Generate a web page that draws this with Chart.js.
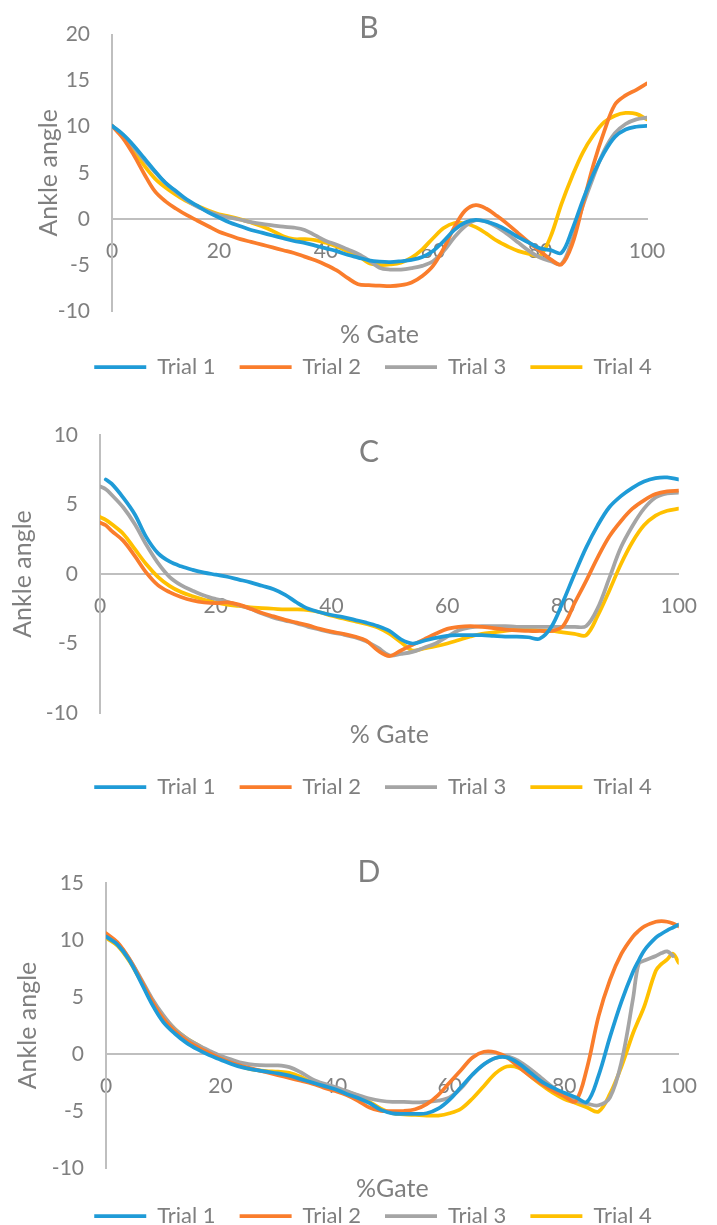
<!DOCTYPE html>
<html>
<head>
<meta charset="utf-8">
<title>Ankle angle over the gait cycle</title>
<script src="https://cdn.jsdelivr.net/npm/chart.js@4.4.1/dist/chart.umd.min.js"></script>
<style>
  html, body { margin: 0; padding: 0; background: #ffffff; overflow: hidden; }
  #page { position: relative; width: 717px; height: 1225px; overflow: hidden; }
  #page canvas { position: absolute; left: 0; }
</style>
</head>
<body>
<div id="page">
  <canvas id="panelB" width="717" height="388" style="top:0px"></canvas>
  <canvas id="panelC" width="717" height="420" style="top:388px"></canvas>
  <canvas id="panelD" width="717" height="429" style="top:808px"></canvas>
</div>
<script>
// ---- shared labels and tick values ----
const trialNames = ['Trial 1', 'Trial 2', 'Trial 3', 'Trial 4'];
const gateTicks = [0, 20, 40, 60, 80, 100];
const angleTicksB = [-10, -5, 0, 5, 10, 15, 20];
const angleTicksC = [-10, -5, 0, 5, 10];
const angleTicksD = [-10, -5, 0, 5, 10, 15];

// ---- panel B: % of gait cycle and ankle angle per trial ----
const gateB = [0, 2, 4, 6, 8, 10, 12, 14, 16, 18, 20, 22, 24, 26, 28, 30, 32, 34, 36, 38, 40,
  42, 44, 46, 48, 50, 52, 54, 56, 58, 60, 62, 64, 66, 68, 70, 72, 74, 76, 78, 80,
  82, 84, 86, 88, 90, 92, 94, 96, 98, 100];
const trial1B = [10.1, 9.2, 8.0, 6.6, 5.2, 3.9, 3.0, 2.1, 1.4, 0.7, 0.15, -0.4, -0.8, -1.2, -1.5, -1.8,
  -2.1, -2.4, -2.6, -2.9, -3.2, -3.5, -3.9, -4.2, -4.5, -4.65, -4.7, -4.6, -4.45, -4.15, -3.5,
  -2.4, -1.2, -0.4, -0.1, -0.3, -0.7, -1.3, -2.0, -2.6, -3.2, -3.4, -3.7, -1.2, 2.0, 4.9,
  7.2, 8.9, 9.7, 10.0, 10.1];
const trial2B = [10.1, 8.8, 7.0, 4.9, 3.0, 1.9, 1.1, 0.4, -0.2, -0.8, -1.4, -1.8, -2.2, -2.5, -2.8, -3.1,
  -3.4, -3.7, -4.1, -4.5, -5.0, -5.6, -6.4, -7.1, -7.2, -7.25, -7.3, -7.2, -6.9, -6.2, -5.1,
  -3.2, -0.9, 0.9, 1.5, 1.1, 0.3, -0.6, -1.6, -2.6, -3.5, -4.4, -4.95, -2.8, 1.5, 5.9,
  9.5, 12.4, 13.4, 14.0, 14.7];
const trial3B = [10.1, 9.1, 7.8, 6.4, 5.1, 3.9, 2.9, 2.0, 1.3, 0.8, 0.4, 0.15, -0.1, -0.35, -0.55, -0.7,
  -0.85, -0.95, -1.2, -1.8, -2.4, -2.8, -3.3, -3.8, -4.5, -5.3, -5.5, -5.5, -5.35, -5.1, -4.6,
  -3.5, -2.0, -0.8, -0.15, -0.3, -0.9, -1.7, -2.6, -3.5, -4.2, -4.6, -4.9, -2.3, 1.4, 4.6,
  7.4, 9.3, 10.3, 10.8, 11.0];
const trial4B = [10.1, 9.0, 7.5, 5.8, 4.4, 3.4, 2.6, 1.9, 1.4, 0.9, 0.5, 0.25, -0.05, -0.4, -0.8, -1.3,
  -1.9, -2.2, -2.2, -2.3, -2.6, -3.0, -3.5, -4.0, -4.8, -5.0, -4.95, -4.75, -4.2, -3.3, -2.1,
  -1.0, -0.45, -0.5, -0.9, -1.6, -2.4, -3.0, -3.5, -3.8, -4.0, -1.9, 1.6, 4.6, 7.2, 9.1,
  10.5, 11.2, 11.5, 11.4, 10.8];

// ---- panel C ----
const gateC = [0, 1, 2, 4, 6, 8, 10, 12, 14, 16, 18, 20, 22, 24, 26, 28, 30, 32, 34, 36, 38, 40,
  42, 44, 46, 48, 50, 52, 54, 56, 58, 60, 62, 64, 66, 68, 70, 72, 74, 76, 78, 80,
  82, 84, 86, 88, 90, 92, 94, 96, 98, 100];
const trial1C = [null, 6.8, 6.5, 5.5, 4.3, 2.65, 1.5, 0.9, 0.55, 0.3, 0.1, -0.05, -0.2, -0.4, -0.6, -0.85,
  -1.1, -1.5, -2.05, -2.5, -2.75, -2.95, -3.1, -3.3, -3.5, -3.75, -4.1, -4.7, -5.0, -4.8, -4.6,
  -4.45, -4.4, -4.4, -4.4, -4.45, -4.5, -4.5, -4.55, -4.65, -3.8, -2.0, 0.0, 1.9, 3.5,
  4.8, 5.6, 6.2, 6.65, 6.9, 6.95, 6.8];
const trial2C = [3.7, 3.5, 3.1, 2.4, 1.3, 0.1, -0.8, -1.3, -1.65, -1.9, -2.05, -2.1, -2.05, -2.2, -2.5, -2.8,
  -3.05, -3.3, -3.5, -3.7, -3.95, -4.15, -4.3, -4.5, -4.8, -5.5, -5.9, -5.5, -5.1, -4.7, -4.3,
  -3.95, -3.8, -3.75, -3.8, -3.9, -4.0, -4.05, -4.1, -4.1, -4.1, -3.75, -2.1, -0.5, 1.2,
  2.7, 3.8, 4.7, 5.3, 5.75, 5.95, 6.0];
const trial3C = [6.3, 6.1, 5.7, 4.8, 3.6, 2.1, 0.8, -0.2, -0.8, -1.2, -1.55, -1.8, -2.0, -2.25, -2.5, -2.85,
  -3.15, -3.35, -3.55, -3.8, -4.0, -4.2, -4.35, -4.55, -4.85, -5.3, -5.85, -5.75, -5.6, -5.3, -5.0,
  -4.5, -4.05, -3.85, -3.75, -3.75, -3.75, -3.8, -3.8, -3.8, -3.8, -3.8, -3.8, -3.75, -2.45,
  -0.3, 1.9, 3.45, 4.7, 5.5, 5.8, 5.85];
const trial4C = [4.1, 3.9, 3.6, 2.9, 1.8, 0.7, -0.2, -0.85, -1.3, -1.6, -1.85, -2.05, -2.2, -2.3, -2.4, -2.45,
  -2.5, -2.55, -2.55, -2.6, -2.75, -3.0, -3.2, -3.4, -3.6, -3.85, -4.3, -4.9, -5.5, -5.35, -5.2,
  -5.0, -4.75, -4.5, -4.3, -4.2, -4.1, -4.0, -4.0, -4.05, -4.1, -4.2, -4.3, -4.4, -3.0,
  -1.2, 0.7, 2.3, 3.5, 4.2, 4.55, 4.7];

// ---- panel D ----
const gateD = [0, 2, 4, 6, 8, 10, 12, 14, 16, 18, 20, 22, 24, 26, 28, 30, 32, 34, 36, 38, 40,
  42, 44, 46, 48, 50, 52, 54, 56, 58, 60, 62, 64, 66, 68, 70, 72, 74, 76, 78, 80,
  82, 84, 86, 88, 90, 92, 93, 94, 96, 97, 98, 99, 100];
const trial1D = [10.3, 9.6, 8.3, 6.4, 4.4, 2.8, 1.8, 1.0, 0.4, -0.1, -0.5, -0.9, -1.2, -1.4, -1.55, -1.7,
  -1.9, -2.2, -2.5, -2.8, -3.1, -3.5, -3.85, -4.3, -4.9, -5.2, -5.25, -5.25, -5.2, -4.8, -4.0,
  -2.9, -1.8, -0.9, -0.35, -0.3, -0.8, -1.6, -2.4, -2.95, -3.4, -3.8, -4.2, -1.9, 1.5, 4.6,
  7.2, 8.2, 9.1, 10.2, 10.55, 10.85, 11.1, 11.35];
const trial2D = [10.6, 9.8, 8.4, 6.6, 4.7, 3.1, 2.0, 1.2, 0.6, 0.1, -0.4, -0.8, -1.1, -1.35, -1.6, -1.85,
  -2.1, -2.35, -2.6, -2.95, -3.25, -3.6, -4.1, -4.7, -5.0, -5.0, -5.0, -4.85, -4.4, -3.6, -2.5,
  -1.4, -0.3, 0.2, 0.15, -0.3, -1.1, -1.9, -2.6, -3.2, -3.7, -4.15, -1.2, 3.3, 6.5, 8.8,
  10.3, 10.8, 11.2, 11.6, 11.65, 11.6, 11.45, 11.2];
const trial3D = [10.3, 9.7, 8.4, 6.7, 4.9, 3.4, 2.2, 1.4, 0.8, 0.3, -0.15, -0.5, -0.8, -0.95, -1.0, -1.0,
  -1.15, -1.6, -2.2, -2.6, -2.9, -3.25, -3.6, -3.9, -4.1, -4.2, -4.2, -4.25, -4.2, -4.1, -3.8,
  -3.0, -1.8, -0.9, -0.35, -0.2, -0.6, -1.3, -2.1, -2.9, -3.6, -4.1, -4.35, -4.5, -3.8, -0.7,
  4.8, 7.9, 8.2, 8.6, 8.85, 9.0, 8.6, null];
const trial4D = [10.2, 9.5, 8.2, 6.5, 4.8, 3.3, 2.2, 1.4, 0.8, 0.2, -0.3, -0.75, -1.15, -1.4, -1.5, -1.55,
  -1.65, -2.0, -2.5, -2.8, -3.0, -3.3, -3.65, -4.2, -4.8, -5.2, -5.3, -5.35, -5.4, -5.4, -5.2,
  -4.8, -3.9, -2.8, -1.7, -1.1, -1.2, -1.9, -2.7, -3.4, -3.95, -4.3, -4.7, -5.05, -3.5, -1.1,
  1.8, 3.0, 4.2, 7.3, 7.9, 8.3, 8.8, 8.0];

// ---- styling ----
const FONT = 'Lato, "Open Sans", "Noto Sans", sans-serif';
const TEXT = '#7f7f7f';
const AXIS = '#bfbfbf';
const trialColors = ['#1f9bd7', '#fa7d2c', '#a5a5a5', '#ffc000'];

// Draws the panel letter near the top of the plot
const panelLetter = {
  id: 'panelLetter',
  afterDraw(chart, args, o) {
    const ctx = chart.ctx;
    ctx.save();
    ctx.font = '30px ' + FONT;
    ctx.fillStyle = TEXT;
    ctx.textAlign = 'center';
    ctx.textBaseline = 'middle';
    ctx.fillText(o.text, o.x, o.y);
    ctx.restore();
  }
};

function drawPanel(canvasId, gate, series, angleTicks, layout) {
  const datasets = series.map((vals, i) => ({
    label: trialNames[i],
    data: gate.map((g, k) => ({ x: g, y: vals[k] })),
    borderColor: trialColors[i],
    backgroundColor: trialColors[i],
    borderWidth: 3.75,
    borderCapStyle: 'round',
    borderJoinStyle: 'round',
    pointRadius: 0,
    pointHoverRadius: 0,
    tension: 0.35,
    spanGaps: true,
    fill: false
  }));

  return new Chart(document.getElementById(canvasId), {
    type: 'line',
    data: { datasets },
    options: {
      responsive: false,
      animation: false,
      events: [],
      layout: { padding: { top: layout.padTop, left: 29, right: 0, bottom: 0 } },
      plugins: {
        tooltip: { enabled: false },
        legend: {
          position: 'bottom',
          labels: {
            usePointStyle: true,
            pointStyle: 'line',
            pointStyleWidth: 52,
            padding: 24,
            color: TEXT,
            font: { family: FONT, size: 22 }
          }
        },
        panelLetter: { text: layout.letter, x: 369, y: layout.letterY }
      },
      scales: {
        x: {
          type: 'linear',
          position: { y: 0 },
          min: gateTicks[0],
          max: gateTicks[gateTicks.length - 1],
          afterBuildTicks: s => { s.ticks = gateTicks.map(v => ({ value: v })); },
          grid: { display: false, drawTicks: false },
          border: { display: true, color: AXIS, width: 2 },
          ticks: { padding: 20, color: TEXT, font: { family: FONT, size: 21 }, callback: v => String(v) },
          title: { display: true, text: layout.xTitle, color: TEXT, font: { family: FONT, size: 25 }, padding: 0 },
          afterFit: s => { s.height = layout.xTitleDrop; }
        },
        y: {
          type: 'linear',
          position: 'left',
          min: angleTicks[0],
          max: angleTicks[angleTicks.length - 1],
          afterBuildTicks: s => { s.ticks = angleTicks.map(v => ({ value: v })); },
          grid: { display: false, drawTicks: false },
          border: { display: true, color: AXIS, width: 2 },
          ticks: { padding: 22, color: TEXT, font: { family: FONT, size: 21 }, callback: v => String(v) },
          title: { display: true, text: 'Ankle angle', color: TEXT, font: { family: FONT, size: 25 },
                   padding: { top: layout.yTitleShift, bottom: 0 } },
          afterFit: s => { s.width = layout.yWidth; }
        },
        rightGap: {
          type: 'linear',
          position: 'right',
          grid: { display: false, drawTicks: false },
          border: { display: false },
          ticks: { display: false },
          afterFit: s => { s.width = layout.rightGap; }
        },
        bottomGap: {
          type: 'linear',
          position: 'bottom',
          grid: { display: false, drawTicks: false },
          border: { display: false },
          ticks: { display: false },
          afterFit: s => { s.height = layout.bottomGap; }
        }
      }
    },
    plugins: [panelLetter]
  });
}

function drawAll() {
  drawPanel('panelB', gateB, [trial1B, trial2B, trial3B, trial4B], angleTicksB, {
    letter: 'B', letterY: 28, padTop: 21, yWidth: 83, rightGap: 70, bottomGap: 21,
    yTitleShift: 5, xTitle: '% Gate', xTitleDrop: 131
  });
  drawPanel('panelC', gateC, [trial1C, trial2C, trial3C, trial4C], angleTicksC, {
    letter: 'C', letterY: 64, padTop: 47, yWidth: 71, rightGap: 18, bottomGap: 39,
    yTitleShift: -21, xTitle: '% Gate', xTitleDrop: 176
  });
  drawPanel('panelD', gateD, [trial1D, trial2D, trial3D, trial4D], angleTicksD, {
    letter: 'D', letterY: 64, padTop: 75, yWidth: 77, rightGap: 25, bottomGap: 13,
    yTitleShift: -16, xTitle: '%Gate', xTitleDrop: 150
  });
}

if (document.fonts && document.fonts.load) {
  Promise.all([
    document.fonts.load('21px Lato'),
    document.fonts.load('25px Lato'),
    document.fonts.load('30px Lato')
  ]).then(drawAll, drawAll);
} else {
  drawAll();
}
</script>
</body>
</html>
